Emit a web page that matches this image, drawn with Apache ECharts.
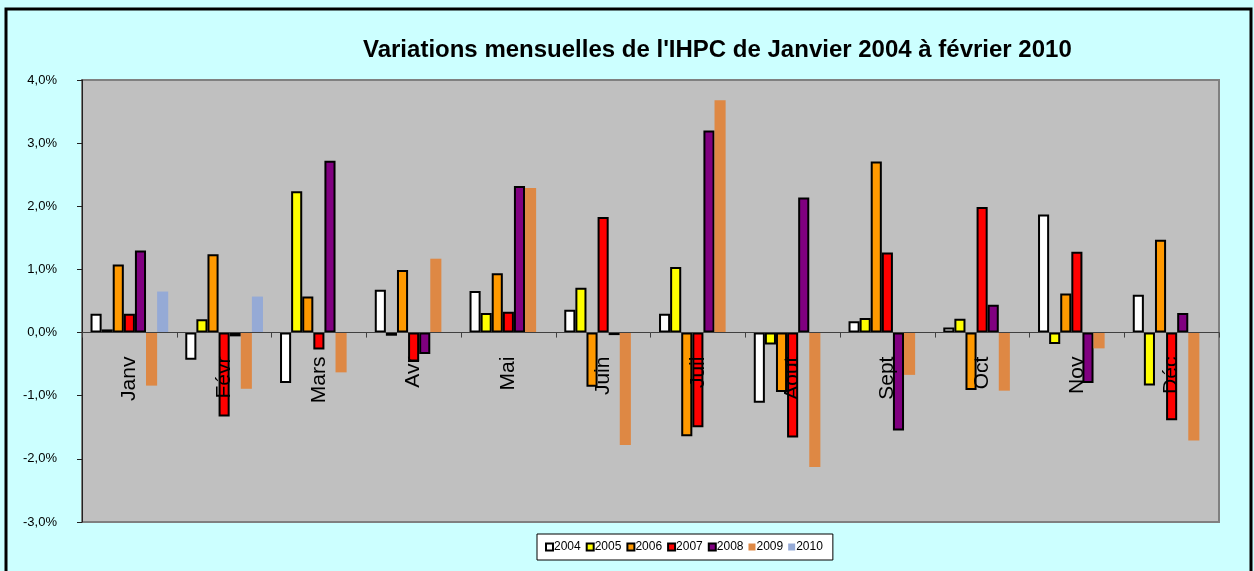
<!DOCTYPE html>
<html lang="fr">
<head>
    <meta charset="UTF-8">
    <title>Variations mensuelles de l'IHPC</title>
    <script src="https://cdn.jsdelivr.net/npm/echarts@6/dist/echarts.min.js"></script>
    <style>
        html, body { margin: 0; padding: 0; background: #CCFFFF; }
        #chart { width: 1254px; height: 571px; }
    </style>
</head>
<body>
<div id="chart"></div>
<script>
    // mois
    var mois = ['Janv', 'Févr', 'Mars', 'Avr', 'Mai', 'Juin', 'Juil', 'Aout', 'Sept', 'Oct', 'Nov', 'Déc'];
    // variations en %
    var v2004 = [0.30, -0.43, -0.80, 0.68, 0.66, 0.36, 0.30, -1.11, 0.18, 0.08, 1.87, 0.60];
    var v2005 = [0.05, 0.21, 2.24, -0.05, 0.31, 0.71, 1.04, -0.19, 0.23, 0.22, -0.18, -0.84];
    var v2006 = [1.08, 1.24, 0.57, 0.99, 0.94, -0.86, -1.64, -0.94, 2.71, -0.91, 0.62, 1.47];
    var v2007 = [0.30, -1.33, -0.27, -0.46, 0.33, 1.83, -1.50, -1.66, 1.27, 1.99, 1.28, -1.39];
    var v2008 = [1.30, -0.06, 2.72, -0.34, 2.32, -0.04, 3.20, 2.14, -1.55, 0.44, -0.80, 0.31];
    var v2009 = [-0.84, -0.89, -0.63, 1.17, 2.29, -1.78, 3.68, -2.13, -0.67, -0.92, -0.25, -1.71];
    var v2010 = [0.65, 0.57, null, null, null, null, null, null, null, null, null, null];
    var annees = ['2004', '2005', '2006', '2007', '2008', '2009', '2010'];
    var couleurs = ['#FFFFFF', '#FFFF00', '#FF9900', '#FF0000', '#800080', '#DE8844', '#95AAD6'];
    var yMin = -3, yMax = 4;

    var donnees = [v2004, v2005, v2006, v2007, v2008, v2009, v2010];
    var series = [];
    for (var i = 0; i < annees.length; i++) {
        var bord = i < 5;
        series.push({
            name: annees[i],
            type: 'bar',
            data: donnees[i],
            barGap: '0%',
            barCategoryGap: '18%',
            itemStyle: {
                color: couleurs[i],
                borderColor: bord ? '#000000' : couleurs[i],
                borderWidth: bord ? 2 : 0
            }
        });
    }

    // axe des mois placé sur la ligne du zéro
    var gTop = 80, gBottom = 49, hauteur = 571 - gTop - gBottom;
    var decalage = -hauteur * (0 - yMin) / (yMax - yMin);

    var chart = echarts.init(document.getElementById('chart'));
    chart.setOption({
        backgroundColor: '#CCFFFF',
        animation: false,
        title: {
            text: "Variations mensuelles de l'IHPC de Janvier 2004 à février 2010",
            left: 358,
            top: 33,
            textStyle: { fontFamily: 'Liberation Sans, Arial', fontWeight: 'bold', fontSize: 24, color: '#000' }
        },
        legend: {
            data: annees,
            left: 537,
            top: 534,
            backgroundColor: '#FFFFFF',
            borderColor: '#000000',
            borderWidth: 1,
            padding: [7, 10, 7, 8],
            itemWidth: 7,
            itemHeight: 7,
            itemGap: 5,
            icon: 'rect',
            textStyle: { fontFamily: 'Liberation Sans, Arial', fontSize: 12, color: '#000', padding: [0, 0, 0, -4] }
        },
        grid: {
            left: 82,
            right: 35,
            top: gTop,
            bottom: gBottom,
            show: true,
            backgroundColor: '#C0C0C0',
            borderColor: '#808080',
            borderWidth: 2
        },
        xAxis: {
            type: 'category',
            data: mois,
            z: 5,
            offset: decalage,
            axisLine: { onZero: false, lineStyle: { color: '#404040', width: 1 } },
            axisTick: { show: true, length: 5, lineStyle: { color: '#404040' } },
            axisLabel: {
                rotate: 90,
                margin: 24,
                fontFamily: 'Liberation Sans, Arial',
                fontSize: 21,
                color: '#000'
            }
        },
        yAxis: {
            type: 'value',
            min: yMin,
            max: yMax,
            interval: 1,
            splitLine: { show: false },
            axisLine: { show: true, lineStyle: { color: '#202020', width: 1 } },
            axisTick: { show: true, length: 5, lineStyle: { color: '#202020' } },
            axisLabel: {
                margin: 25,
                fontFamily: 'Liberation Sans, Arial',
                fontSize: 13,
                color: '#000',
                formatter: function (v) { return v.toFixed(1).replace('.', ',') + '%'; }
            }
        },
        graphic: [{
            type: 'rect',
            shape: { x: 6, y: 9, width: 1245, height: 570 },
            style: { fill: null, stroke: '#000000', lineWidth: 3 },
            silent: true
        }],
        series: series
    });
</script>
</body>
</html>
